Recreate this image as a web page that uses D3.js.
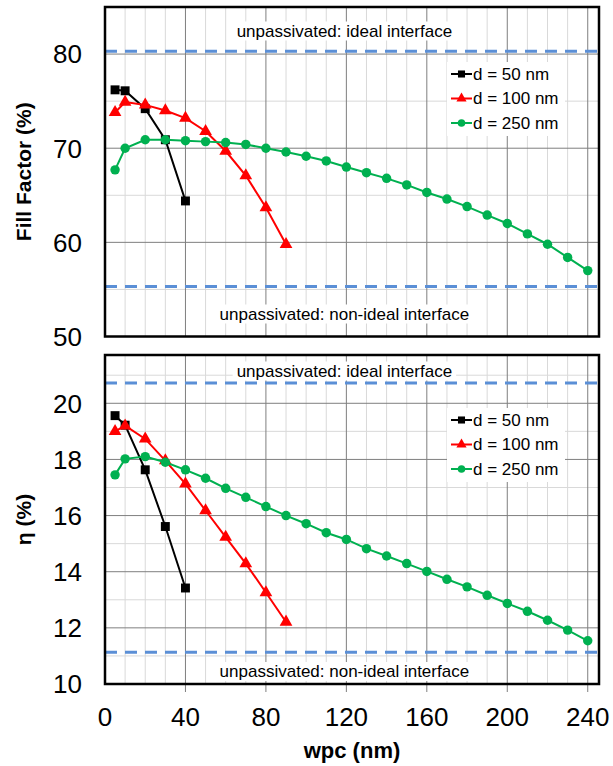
<!DOCTYPE html>
<html>
<head>
<meta charset="utf-8">
<script src="https://cdn.jsdelivr.net/npm/d3@7"></script>
<style>
  body { margin: 0; background: #fff; }
  svg text { font-family: "Liberation Sans", Arial, sans-serif; fill: #000; }
</style>
</head>
<body>
<div id="chart"></div>
<script>
// wpc values (nm) per series
const wpc50 = [5, 10, 20, 30, 40];
const wpc100 = [5, 10, 20, 30, 40, 50, 60, 70, 80, 90];
const wpc250 = [5, 10, 20, 30, 40, 50, 60, 70, 80, 90, 100, 110, 120, 130, 140, 150, 160, 170, 180, 190, 200, 210, 220, 230, 240];

// Fill factor (%)
const ff50 = [76.2, 76.1, 74.2, 70.9, 64.4];
const ff100 = [73.8, 74.9, 74.6, 74.0, 73.2, 71.8, 69.7, 67.1, 63.7, 59.8];
const ff250 = [67.7, 70.0, 70.9, 70.9, 70.8, 70.7, 70.6, 70.4, 70.0, 69.6, 69.15, 68.65, 68.0, 67.4, 66.8, 66.1, 65.3, 64.6, 63.8, 62.9, 62.0, 60.9, 59.8, 58.4, 57.0];

// efficiency eta (%)
const eta50 = [19.56, 19.22, 17.63, 15.61, 13.42];
const eta100 = [19.0, 19.2, 18.73, 17.96, 17.13, 16.18, 15.23, 14.29, 13.26, 12.21];
const eta250 = [17.45, 18.02, 18.1, 17.9, 17.63, 17.33, 16.97, 16.65, 16.32, 16.0, 15.71, 15.39, 15.15, 14.82, 14.56, 14.29, 14.01, 13.73, 13.46, 13.16, 12.87, 12.59, 12.27, 11.92, 11.54];

// unpassivated reference levels
const ffRef = [80.3, 55.3];
const etaRef = [20.72, 11.13];

const seriesNames = ['d = 50 nm', 'd = 100 nm', 'd = 250 nm'];
const xTicks = [0, 40, 80, 120, 160, 200, 240];
const ffTicks = [50, 60, 70, 80];
const etaTicks = [10, 12, 14, 16, 18, 20];

const W = 613, H = 766;
const left = 105, right = 599;

const svg = d3.select('#chart').append('svg').attr('width', W).attr('height', H);

const x = d3.scaleLinear().domain([0, 245.6]).range([left, right]);

const styles = [
  { color: '#000000', shape: d3.symbolSquare, size: 80, lsize: 50 },
  { color: '#ff0000', shape: d3.symbolTriangle, size: 70, lsize: 45 },
  { color: '#00b050', shape: d3.symbolCircle, size: 70, lsize: 45 }
];

const drawPanel = (opts) => {
  const y = d3.scaleLinear().domain(opts.domain).range([opts.bottom, opts.top]);
  const g = svg.append('g');

  // minor gridlines
  g.append('g').selectAll('line').data(d3.range(10, 246, 10).filter(v => v % 40 !== 0))
    .enter().append('line')
    .attr('x1', d => x(d)).attr('x2', d => x(d))
    .attr('y1', opts.top).attr('y2', opts.bottom)
    .attr('stroke', '#d9d9d9').attr('stroke-width', 1);
  g.append('g').selectAll('line').data(opts.minor)
    .enter().append('line')
    .attr('x1', left).attr('x2', right)
    .attr('y1', d => y(d)).attr('y2', d => y(d))
    .attr('stroke', '#d9d9d9').attr('stroke-width', 1);

  // major gridlines
  g.append('g').selectAll('line').data(xTicks.slice(1))
    .enter().append('line')
    .attr('x1', d => x(d)).attr('x2', d => x(d))
    .attr('y1', opts.top).attr('y2', opts.bottom + (opts.xAxis ? 8 : 0))
    .attr('stroke', '#7f7f7f').attr('stroke-width', 1);
  g.append('g').selectAll('line').data(opts.ticks.slice(1))
    .enter().append('line')
    .attr('x1', left).attr('x2', right)
    .attr('y1', d => y(d)).attr('y2', d => y(d))
    .attr('stroke', '#7f7f7f').attr('stroke-width', 1);

  // reference dashed lines
  g.append('g').selectAll('line').data(opts.ref)
    .enter().append('line')
    .attr('x1', left).attr('x2', right)
    .attr('y1', d => y(d)).attr('y2', d => y(d))
    .attr('stroke', '#5b8fd6').attr('stroke-width', 3)
    .attr('stroke-dasharray', '12,8');

  // annotation labels with white box
  const notes = [
    { t: 'unpassivated: ideal interface', y: opts.noteY[0] },
    { t: 'unpassivated: non-ideal interface', y: opts.noteY[1] }
  ];
  notes.forEach(n => {
    const txt = g.append('text').attr('x', x(120) - 2).attr('y', n.y)
      .attr('text-anchor', 'middle').attr('dominant-baseline', 'central')
      .attr('font-size', 17).text(n.t);
    const bb = txt.node().getBBox();
    g.insert('rect', 'text').attr('x', bb.x - 4).attr('y', bb.y).attr('width', bb.width + 8)
      .attr('height', bb.height).attr('fill', '#fff');
  });

  // series
  opts.series.forEach((vals, i) => {
    const pts = opts.xs[i].map((xv, j) => [xv, vals[j]]);
    const st = styles[i];
    g.append('path').datum(pts)
      .attr('fill', 'none').attr('stroke', st.color).attr('stroke-width', 2)
      .attr('d', d3.line().x(d => x(d[0])).y(d => y(d[1])));
    g.append('g').selectAll('path').data(pts).enter().append('path')
      .attr('d', d3.symbol().type(st.shape).size(st.size))
      .attr('transform', d => `translate(${x(d[0])},${y(d[1])})`)
      .attr('fill', st.color);
  });

  // legend
  const lg = g.append('g');
  lg.append('rect').attr('x', 447).attr('y', opts.legendY - 12).attr('width', 118).attr('height', 74).attr('fill', '#fff');
  seriesNames.forEach((name, i) => {
    const yy = opts.legendY + i * 24.5;
    const st = styles[i];
    lg.append('line').attr('x1', 451).attr('x2', 472).attr('y1', yy).attr('y2', yy)
      .attr('stroke', st.color).attr('stroke-width', 2);
    lg.append('path').attr('d', d3.symbol().type(st.shape).size(st.lsize))
      .attr('transform', `translate(461.5,${yy})`).attr('fill', st.color);
    lg.append('text').attr('x', 473).attr('y', yy).attr('dominant-baseline', 'central')
      .attr('font-size', 17).text(name);
  });

  // frame
  g.append('rect').attr('x', left).attr('y', opts.top).attr('width', right - left)
    .attr('height', opts.bottom - opts.top).attr('fill', 'none')
    .attr('stroke', '#000').attr('stroke-width', 2.5);

  // y axis labels
  g.append('g').selectAll('text').data(opts.ticks).enter().append('text')
    .attr('x', 82).attr('y', d => y(d)).attr('dy', '0.36em')
    .attr('text-anchor', 'end').attr('font-size', 26).text(d => d);

  g.append('text')
    .attr('transform', `translate(31,${(opts.top + opts.bottom) / 2}) rotate(-90)`)
    .attr('text-anchor', 'middle').attr('font-size', 21).attr('font-weight', 'bold')
    .text(opts.title);

  if (opts.xAxis) {
    g.append('g').selectAll('text').data(xTicks).enter().append('text')
      .attr('x', d => x(d)).attr('y', 726)
      .attr('text-anchor', 'middle').attr('font-size', 26).text(d => d);
    g.append('text').attr('x', (left + right) / 2).attr('y', 758)
      .attr('text-anchor', 'middle').attr('font-size', 22).attr('font-weight', 'bold')
      .text('wpc (nm)');
  }
};

drawPanel({
  top: 7, bottom: 336.5, domain: [50, 85],
  ticks: ffTicks, minor: [55, 65, 75],
  ref: ffRef, noteY: [31, 314],
  xs: [wpc50, wpc100, wpc250], series: [ff50, ff100, ff250],
  legendY: 74, title: 'Fill Factor (%)', xAxis: false
});

drawPanel({
  top: 355, bottom: 684, domain: [10, 21.72],
  ticks: etaTicks, minor: [11, 13, 15, 17, 19, 21],
  ref: etaRef, noteY: [371, 671.5],
  xs: [wpc50, wpc100, wpc250], series: [eta50, eta100, eta250],
  legendY: 420, title: 'η (%)', xAxis: true
});
</script>
</body>
</html>
